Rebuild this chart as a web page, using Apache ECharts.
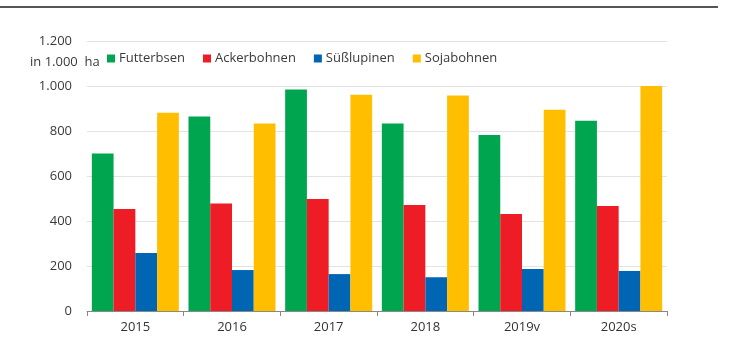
<!DOCTYPE html>
<html>
<head>
<meta charset="utf-8">
<script src="https://cdn.jsdelivr.net/npm/echarts@6/dist/echarts.min.js"></script>
<style>
  html, body { margin: 0; padding: 0; background: #fff; }
  #chart { width: 730px; height: 340px; }
</style>
</head>
<body>
<div id="chart"></div>
<script>
// Anbauflächen von Hülsenfrüchten, in 1.000 ha
const years = ['2015', '2016', '2017', '2018', '2019v', '2020s'];
const futterbsen  = [700, 864, 985, 833, 782, 846];
const ackerbohnen = [453, 478, 498, 471, 431, 467];
const suesslupinen = [258, 182, 164, 150, 187, 178];
const sojabohnen  = [881, 833, 961, 958, 895, 1000];
const yTicks = [0, 200, 400, 600, 800, 1000, 1200];

const colors = ['#00a550', '#ee1c25', '#0065b3', '#ffbf00'];
const font = '"Open Sans", "Noto Sans", sans-serif';

function fmt(v) {
  return String(v).replace(/\B(?=(\d{3})+(?!\d))/g, '.');
}

const chart = echarts.init(document.getElementById('chart'), null, { renderer: 'canvas' });

function bar(name, data, color) {
  return {
    name: name,
    type: 'bar',
    data: data,
    barGap: '0%',
    barCategoryGap: '10%',
    itemStyle: { color: color },
    emphasis: { disabled: true }
  };
}

chart.setOption({
  animation: false,
  color: colors,
  textStyle: { fontFamily: font },
  grid: { left: 87, right: 63, top: 41, bottom: 29, containLabel: false },
  legend: {
    left: 102,
    top: 47,
    icon: 'rect',
    itemWidth: 8,
    itemHeight: 8,
    itemGap: 18,
    textStyle: { fontSize: 13, color: '#3a3a3a', fontFamily: font, padding: [0, 0, 0, -1] },
    data: ['Futterbsen', 'Ackerbohnen', 'Süßlupinen', 'Sojabohnen']
  },
  xAxis: {
    type: 'category',
    data: years,
    axisLine: { lineStyle: { color: '#888', width: 1 } },
    axisTick: { show: true, length: 5, lineStyle: { color: '#888' } },
    axisLabel: { fontSize: 13, color: '#333', margin: 10, fontFamily: font }
  },
  yAxis: {
    type: 'value',
    min: yTicks[0],
    max: yTicks[yTicks.length - 1],
    interval: 200,
    axisLine: { show: false },
    axisTick: { show: false },
    splitLine: { lineStyle: { color: '#e3e3e3', width: 1 } },
    axisLabel: {
      fontSize: 13,
      color: '#3a3a3a',
      margin: 15,
      fontFamily: font,
      formatter: function (v) { return fmt(v); }
    }
  },
  graphic: [
    {
      type: 'line',
      shape: { x1: 0, y1: 7, x2: 718, y2: 7 },
      style: { stroke: '#555', lineWidth: 2 }
    },
    {
      type: 'text',
      left: 30,
      top: 56,
      style: { text: 'in 1.000  ha', font: '13px ' + font, fill: '#3a3a3a' }
    }
  ],
  series: [
    bar('Futterbsen', futterbsen, colors[0]),
    bar('Ackerbohnen', ackerbohnen, colors[1]),
    bar('Süßlupinen', suesslupinen, colors[2]),
    bar('Sojabohnen', sojabohnen, colors[3])
  ]
});
</script>
</body>
</html>
